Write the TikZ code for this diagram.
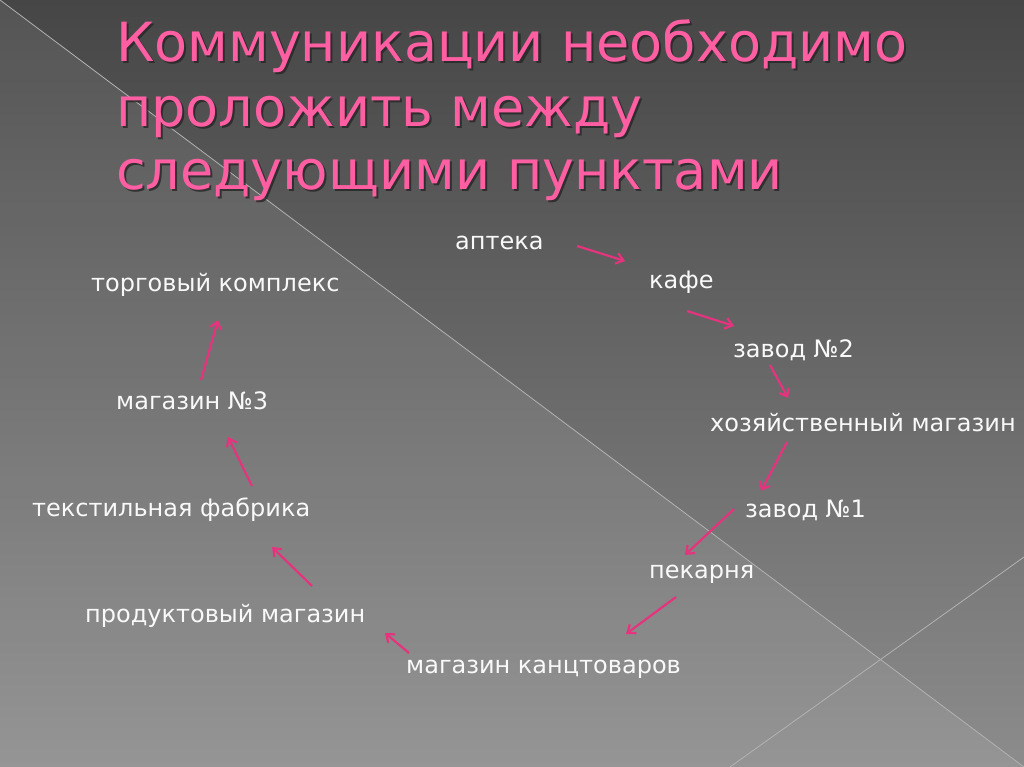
\documentclass[tikz,border=0pt]{standalone}
\usepackage{fontspec}
\setmainfont{DejaVu Sans}
\usetikzlibrary{arrows.meta}
\definecolor{titlepink}{HTML}{FF5FA2}
\definecolor{arrowpink}{HTML}{E6337E}
\definecolor{bgtop}{HTML}{464646}
\definecolor{bgbottom}{HTML}{8C8C8C}
\tikzset{every node/.style={inner sep=0pt, anchor=base west},
  place/.style={text=white!95!gray, font=\fontsize{24}{28}\selectfont},
  heading/.style={font=\fontsize{54}{64}\selectfont},
  link/.style={arrowpink, line width=2.2pt, -{Straight Barb[length=7pt,width=11pt,line width=2.2pt]}}}

\begin{document}
\begin{tikzpicture}[x=1pt,y=-1pt]
  \useasboundingbox (0,0) rectangle (1024,767);
  \shade[top color=bgtop, bottom color=bgbottom] (0,0) rectangle (1024,767);
  \fill[white, opacity=0.08] (0,0) -- (1024,767) -- (0,767) -- cycle;
  \draw[gray!60!white, line width=0.8pt] (0,0) -- (1024,767);
  \draw[gray!60!white, line width=0.8pt] (1024,557) -- (730,767);

  \foreach \txt/\yy [count=\i] in {Коммуникации необходимо/62, проложить между/127, следующими пунктами/190}{
    \node[heading, text=black!85, opacity=0.8] (shadow\i) at (118,\yy+2) {\txt};
    \node[heading, text=titlepink] (title\i) at (116,\yy) {\txt};
  }

  \node[place] (apteka)   at (455,249) {аптека};
  \node[place] (kafe)     at (649,288) {кафе};
  \node[place] (zavod2)   at (733,357) {завод №2};
  \node[place] (hoz)      at (710,431) {хозяйственный магазин};
  \node[place] (zavod1)   at (745,517) {завод №1};
  \node[place] (pekarnya) at (649,578) {пекарня};
  \node[place] (kanc)     at (406,673) {магазин канцтоваров};
  \node[place] (prod)     at (85,622)  {продуктовый магазин};
  \node[place] (tekst)    at (32,516)  {текстильная фабрика};
  \node[place] (mag3)     at (116,409) {магазин №3};
  \node[place] (torg)     at (91,291)  {торговый комплекс};

  \draw[link] ([shift={(122,-3)}]apteka.base west) -- ([shift={(-24,-27)}]kafe.base west);
  \draw[link] ([shift={(38,23)}]kafe.base west) -- ([shift={(1,-31)}]zavod2.base west);
  \draw[link] ([shift={(37,8)}]zavod2.base west) -- ([shift={(78,-33)}]hoz.base west);
  \draw[link] ([shift={(77,11)}]hoz.base west) -- ([shift={(16,-26)}]zavod1.base west);
  \draw[link] ([shift={(-11,-8)}]zavod1.base west) -- ([shift={(36,-23)}]pekarnya.base west);
  \draw[link] ([shift={(27,19)}]pekarnya.base west) -- ([shift={(220,-39)}]kanc.base west);
  \draw[link] ([shift={(3,-20)}]kanc.base west) -- ([shift={(300,11)}]prod.base west);
  \draw[link] ([shift={(227,-36)}]prod.base west) -- ([shift={(240,31)}]tekst.base west);
  \draw[link] ([shift={(220,-30)}]tekst.base west) -- ([shift={(112,28)}]mag3.base west);
  \draw[link] ([shift={(85,-29)}]mag3.base west) -- ([shift={(127,29)}]torg.base west);
\end{tikzpicture}
\end{document}
